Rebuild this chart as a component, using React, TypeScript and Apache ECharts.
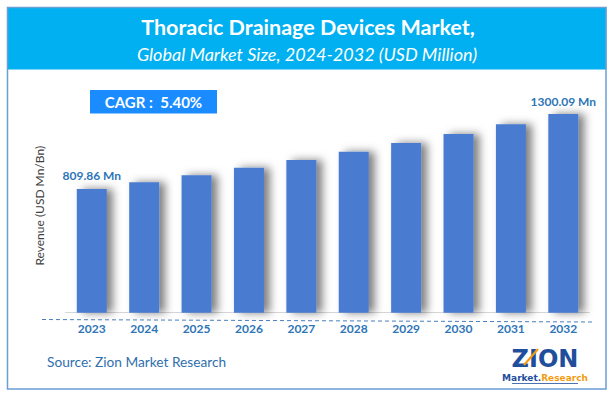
import React, { useEffect, useRef } from "react";
import * as echarts from "echarts";

const years = ["2023", "2024", "2025", "2026", "2027", "2028", "2029", "2030", "2031", "2032"];
const revenue = [809.86, 853.6, 899.7, 948.3, 999.5, 1053.4, 1110.3, 1170.2, 1233.4, 1300.09];
const labelledIndexes = [0, 9];
const titleText = "Thoracic Drainage Devices Market,";
const subtitleText = "Global Market Size, 2024-2032 (USD Million)";
const cagrText = "CAGR :  5.40%";
const sourceText = "Source: Zion Market Research";
const yAxisName = "Revenue (USD Mn/Bn)";

export default function App() {
  const ref = useRef<HTMLDivElement>(null);
  useEffect(() => {
    if (!ref.current) return;
    const chart = echarts.init(ref.current, null, { renderer: "svg" });
    const font = "Lato, 'Open Sans', sans-serif";
    chart.setOption({
      animation: false,
      backgroundColor: "#ffffff",
      grid: { left: 65.6, right: 24.5, top: 98.8, bottom: 85.3, containLabel: false },
      xAxis: {
        type: "category",
        data: years,
        axisLine: { show: true, lineStyle: { color: "#d6d6d6", width: 1 } },
        axisTick: { show: false },
        axisLabel: {
          color: "#2e75b6",
          fontWeight: "bold",
          fontSize: 12,
          fontFamily: font,
          margin: 10,
        },
      },
      yAxis: {
        type: "value",
        min: 0,
        max: 1400,
        show: true,
        axisLine: { show: false },
        axisTick: { show: false },
        axisLabel: { show: false },
        splitLine: { show: false },
        name: yAxisName,
        nameLocation: "middle",
        nameGap: 20,
        nameRotate: 90,
        nameTextStyle: { color: "#404040", fontSize: 12, fontFamily: font },
      },
      series: [
        {
          type: "bar",
          data: revenue.map((v, i) => ({
            value: v,
            label: {
              show: labelledIndexes.includes(i),
              position: "top",
              distance: 7,
              formatter: (p: any) => `${(p.value as number).toFixed(2)} Mn`,
              color: "#2e75b6",
              fontWeight: "bold",
              fontSize: 12,
              fontFamily: font,
            },
          })),
          barWidth: 30,
          itemStyle: {
            color: "#4a7bd1",
            shadowColor: "rgba(0,0,0,0.5)",
            shadowBlur: 8,
            shadowOffsetX: 6,
            shadowOffsetY: 0,
          },
        },
      ],
      graphic: [
        {
          type: "rect",
          shape: { x: 7.5, y: 7.5, width: 598.5, height: 381.5 },
          style: { fill: "none", stroke: "#6a9fd4", lineWidth: 1.5 },
          z: 10,
        },
        {
          type: "rect",
          shape: { x: 7, y: 7, width: 599.5, height: 62.5 },
          style: { fill: "#00b0f0" },
          z: 5,
        },
        {
          type: "text",
          x: 308,
          y: 27,
          style: {
            text: titleText,
            fill: "#ffffff",
            font: `bold 21.5px ${font}`,
            align: "center",
            verticalAlign: "middle",
          },
          z: 11,
        },
        {
          type: "text",
          x: 307,
          y: 54,
          style: {
            text: subtitleText,
            fill: "#ffffff",
            font: `italic 18px ${font}`,
            align: "center",
            verticalAlign: "middle",
          },
          z: 11,
        },
        {
          type: "rect",
          shape: { x: 90, y: 90, width: 127, height: 23.5 },
          style: { fill: "#1a8cff" },
          z: 5,
        },
        {
          type: "text",
          x: 153.5,
          y: 102,
          style: {
            text: cagrText,
            fill: "#ffffff",
            font: `bold 15px ${font}`,
            align: "center",
            verticalAlign: "middle",
          },
          z: 11,
        },
        {
          type: "line",
          shape: { x1: 42, y1: 319.5, x2: 592, y2: 322 },
          style: { stroke: "#4a7ebb", lineWidth: 1, lineDash: [4, 3] },
          z: 5,
        },
        {
          type: "text",
          x: 47,
          y: 361,
          style: {
            text: sourceText,
            fill: "#2f6fad",
            font: `13.7px ${font}`,
            align: "left",
            verticalAlign: "middle",
          },
          z: 11,
        },
        {
          type: "group",
          x: 512,
          y: 345,
          children: [
            {
              type: "text",
              x: 33,
              y: 14,
              style: {
                text: "ZION",
                fill: "#1f4e9c",
                font: `900 24px 'DejaVu Sans', sans-serif`,
                align: "center",
                verticalAlign: "middle",
              },
            },
            {
              type: "line",
              shape: { x1: 12, y1: 20, x2: 26, y2: 4 },
              style: { stroke: "#f39c12", lineWidth: 2 },
            },
            {
              type: "text",
              x: 33,
              y: 33,
              style: {
                rich: {
                  m: { fill: "#1f4e9c", font: `bold 9px 'DejaVu Sans', sans-serif` },
                  r: { fill: "#f39c12", font: `bold 9px 'DejaVu Sans', sans-serif` },
                },
                text: "{m|Market.}{r|Research}",
                align: "center",
                verticalAlign: "middle",
              },
            },
            {
              type: "line",
              shape: { x1: 0, y1: 38.5, x2: 66, y2: 38.5 },
              style: { stroke: "#1f4e9c", lineWidth: 0.8 },
            },
          ],
          z: 11,
        },
      ],
    });
    return () => chart.dispose();
  }, []);
  return (
    <div
      ref={ref}
      style={{ position: "fixed", left: 0, top: 0, width: 614, height: 398, background: "#fff" }}
    />
  );
}
